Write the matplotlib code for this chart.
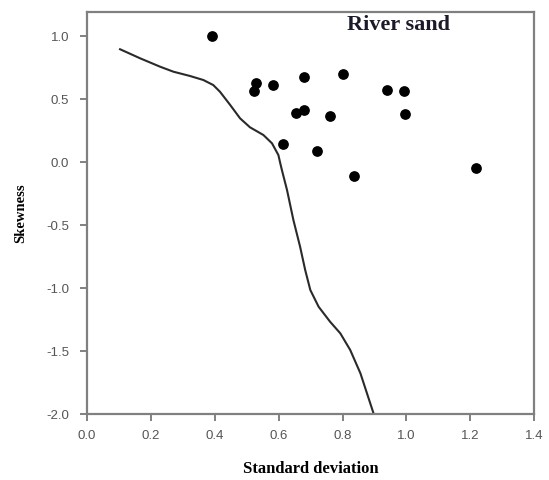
import matplotlib
matplotlib.use('Agg')
import matplotlib.pyplot as plt

# 散点数据：标准差、偏度
std_dev = [0.392, 0.524, 0.529, 0.581, 0.680, 0.802, 0.940, 0.994, 0.996,
           0.654, 0.680, 0.762, 0.614, 0.721, 0.835, 1.218]
skewness = [1.00, 0.564, 0.625, 0.614, 0.672, 0.699, 0.572, 0.564, 0.381,
            0.392, 0.416, 0.366, 0.146, 0.090, -0.110, -0.049]

# 分界线
line_x = [0.103, 0.166, 0.228, 0.270, 0.322, 0.364, 0.395, 0.416, 0.448, 0.479,
          0.510, 0.552, 0.579, 0.599, 0.605, 0.610, 0.626, 0.646, 0.667, 0.683,
          0.699, 0.725, 0.761, 0.793, 0.824, 0.856, 0.897]
line_y = [0.895, 0.823, 0.757, 0.717, 0.683, 0.651, 0.611, 0.558, 0.453, 0.347,
          0.276, 0.215, 0.149, 0.056, -0.010, -0.063, -0.221, -0.459, -0.671, -0.856,
          -1.014, -1.147, -1.266, -1.358, -1.490, -1.675, -1.992]

xticks = [0.0, 0.2, 0.4, 0.6, 0.8, 1.0, 1.2, 1.4]
yticks = [-2.0, -1.5, -1.0, -0.5, 0.0, 0.5, 1.0]

fig = plt.figure(figsize=(5.49, 4.8), dpi=100)
ax = fig.add_axes([0.1588, 0.1369, 0.814, 0.838])

ax.plot(line_x, line_y, color='#2a2a2a', lw=1.5, solid_joinstyle='round')
ax.scatter(std_dev, skewness, s=45, color='black', zorder=3)

ax.set_xlim(0, 1.4)
ax.set_ylim(-2.0, 1.19)
ax.set_xticks(xticks)
ax.set_yticks(yticks)
ax.set_xticklabels(['%.1f' % v for v in xticks], fontsize=9.5, color='#555555', family='Liberation Sans')
ax.set_yticklabels(['%.1f' % v for v in yticks], fontsize=9.5, color='#555555', family='Liberation Sans')
ax.tick_params(axis='y', direction='out', length=5, width=1.3, color='#777777', pad=8)
ax.tick_params(axis='x', direction='out', length=5, width=1.3, color='#777777', pad=6)
for sp in ax.spines.values():
    sp.set_color('#808080')
    sp.set_linewidth(1.6)

ax.set_xlabel('Standard deviation', family='Liberation Serif', fontweight='bold', fontsize=12)
ax.xaxis.set_label_coords(0.5, -0.115)
ax.set_ylabel('Skewness', family='Liberation Serif', fontweight='bold', fontsize=10.5)
ax.yaxis.set_label_coords(-0.135, 0.5)

ax.text(0.975, 1.087, 'River sand', family='Liberation Serif', fontweight='bold',
        fontsize=16, color='#1a1a2a', ha='center', va='center')

plt.savefig('out.png', dpi=100)
